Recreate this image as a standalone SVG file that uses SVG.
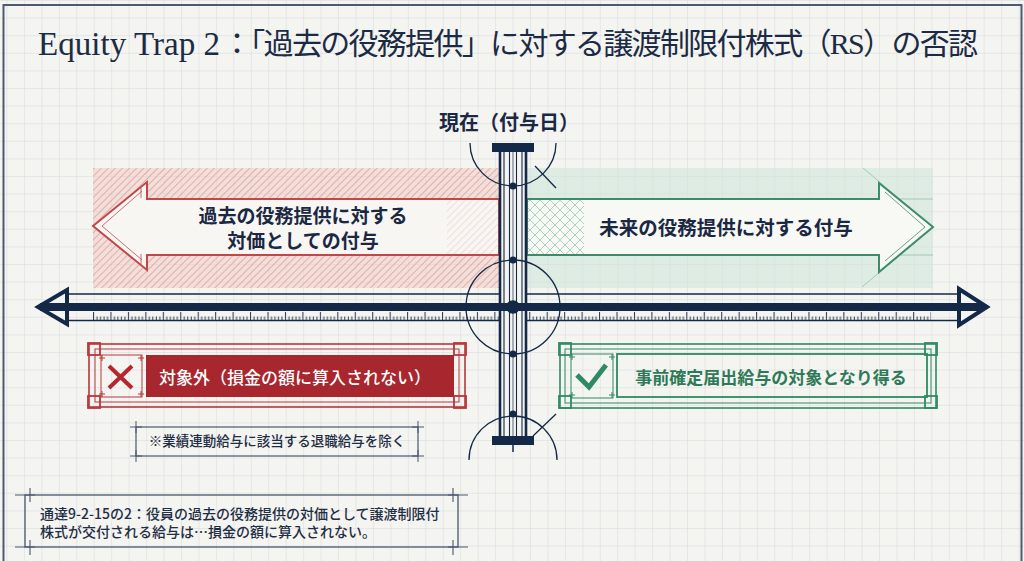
<svg xmlns="http://www.w3.org/2000/svg" width="1024" height="561" viewBox="0 0 1024 561">
<style>
.navy{stroke:#142847;fill:none}
.sans{font-family:"Noto Sans CJK JP","Liberation Sans",sans-serif}
.lbl{font-family:"Noto Sans CJK JP","Liberation Sans",sans-serif;font-weight:700;fill:#1a2844;text-anchor:middle}
.red{stroke:#b8363c;fill:none}
.grn{stroke:#2f8a63;fill:none}
.note{stroke:#4a5670;fill:none}
</style>
<defs>
<pattern id="grid" patternUnits="userSpaceOnUse" x="6.5" y="0" width="17.45" height="17.6">
<path d="M0 0V17.6M0 0H17.45" stroke="#d0d3dc" stroke-width="0.8" fill="none"/>
</pattern>
<pattern id="rhatch" patternUnits="userSpaceOnUse" width="5" height="5" patternTransform="rotate(45)">
<line x1="0" y1="0" x2="0" y2="5" stroke="#dd938e" stroke-width="1.3"/>
</pattern>
<pattern id="gcross" patternUnits="userSpaceOnUse" width="10" height="10">
<path d="M0 0L10 10M10 0L0 10" stroke="#7cbc9e" stroke-width="0.7" fill="none"/>
</pattern>
<pattern id="ticks" patternUnits="userSpaceOnUse" x="93" y="312" width="17.45" height="8">
<path d="M0.5 0V8M4 4.5V8M7.5 4.5V8M11 4.5V8M14.5 4.5V8" stroke="#142847" stroke-width="0.9" fill="none"/>
</pattern>
</defs>

<g id="background">
<rect x="0" y="0" width="1024" height="561" fill="#f4f4f0"/>
<rect x="0" y="0" width="1024" height="561" fill="url(#grid)"/>
<rect x="3.5" y="5" width="1018" height="570" fill="none" stroke="#4f5a70" stroke-width="2"/>
</g>

<g id="title">
<text x="38" y="55" font-family="'Liberation Serif','Noto Sans CJK JP',serif" font-size="33" fill="#1c2b45" textLength="182" lengthAdjust="spacingAndGlyphs">Equity Trap 2</text>
<text x="222" y="54" font-family="'Liberation Serif','Noto Sans CJK JP',serif" font-size="30" fill="#1c2b45" textLength="756" lengthAdjust="spacing">：「過去の役務提供」に対する譲渡制限付株式（RS）の否認</text>
</g>

<g id="past-region">
<rect x="93" y="168" width="406" height="120" fill="#f0d0cc" opacity="0.6"/>
<rect x="93" y="168" width="406" height="120" fill="url(#rhatch)"/>
</g>
<g id="future-region">
<rect x="527" y="168" width="406" height="120" fill="#cfe6da" opacity="0.6"/>
</g>

<g id="past-arrow">
<polygon points="93,226 147,182 147,199 499,199 499,255 147,255 147,270" fill="#f8f6f3" stroke="#c0484b" stroke-width="2" stroke-linejoin="miter"/>
<rect x="447" y="200" width="52" height="54" fill="url(#rhatch)" opacity="0.4"/>
<polyline points="142,191 102,226 142,260" fill="none" stroke="#c0484b" stroke-width="0.8"/>
<path d="M141 188V198M141 254V264" stroke="#c0484b" stroke-width="0.8"/>
<text class="lbl" x="303" y="223" font-size="19">過去の役務提供に対する</text>
<text class="lbl" x="303" y="248" font-size="19">対価としての付与</text>
</g>

<g id="future-arrow">
<path d="M863 168L933 227M862 287L933 227M880 199H933M880 255H933" stroke="#8cc4aa" stroke-width="0.8" fill="none"/>
<polygon points="527,199 879,199 879,183 933,227 879,272 879,255 527,255" fill="#f8f8f4" stroke="#3d8c68" stroke-width="2" stroke-linejoin="miter"/>
<rect x="528" y="200" width="56" height="54" fill="url(#gcross)" opacity="0.9"/>
<polyline points="885,192 925,227 885,261" fill="none" stroke="#3d8c68" stroke-width="0.8"/>
<text class="lbl" x="726" y="235" font-size="19.5">未来の役務提供に対する付与</text>
</g>

<g id="connectors">
<g id="timeline">
<line x1="67" y1="294" x2="959" y2="294" class="navy" stroke-width="1.5"/>
<line x1="67" y1="320.5" x2="959" y2="320.5" class="navy" stroke-width="1.5"/>
<rect x="93" y="312" width="838" height="8" fill="url(#ticks)"/>
<polygon points="38,307 67,290 67,324" fill="#f4f4f0" stroke="#142847" stroke-width="4" stroke-linejoin="miter"/>
<polygon points="987,307 959,289 959,325" fill="#f4f4f0" stroke="#142847" stroke-width="4" stroke-linejoin="miter"/>
</g>
<g id="pillar">
<rect x="499" y="151" width="28" height="285" fill="#f4f4f0"/>
<path d="M500 151V436M526 151V436" class="navy" stroke-width="2.6"/>
<path d="M504 151V436M522 151V436" class="navy" stroke-width="1.1"/>
<path d="M509.5 151V436M516.5 151V436" class="navy" stroke-width="1.1"/>
<path d="M513 151V436" class="navy" stroke-width="0.7"/>
<rect x="492" y="143" width="42" height="9" fill="#142847"/>
<rect x="492" y="436" width="42" height="9" fill="#142847"/>
<line x1="513" y1="445" x2="513" y2="452" class="navy" stroke-width="1.5"/>
</g>
<rect x="40" y="303" width="944" height="8" fill="#142847"/>
<g id="arcs" class="navy" stroke-width="1.3">
<path d="M470 143A43 43 0 0 0 556 143"/>
<circle cx="513" cy="307" r="47"/>
<path d="M469 460A44 44 0 0 1 557 460"/>
<line x1="535" y1="166" x2="556" y2="188"/>
<line x1="533" y1="436" x2="556" y2="414"/>
</g>
<g id="dots" fill="#142847">
<circle cx="513" cy="186" r="3.6"/>
<circle cx="513" cy="260" r="3.6"/>
<circle cx="513" cy="307" r="6.8"/>
<circle cx="513" cy="354" r="3.6"/>
<circle cx="513" cy="414" r="3.6"/>
</g>
</g>

<g id="now-label">
<text class="sans" x="509" y="130" font-size="20" font-weight="600" fill="#1a2844" text-anchor="middle">現在（付与日）</text>
</g>

<g id="excluded-box">
<rect x="89" y="344" width="376" height="63" fill="#f6f2ef" class="red" stroke-width="1.6"/>
<rect x="95" y="349" width="364" height="53" class="red" stroke-width="1"/>
<g class="red" stroke-width="1.8">
<rect x="88" y="343" width="12" height="12"/>
<rect x="454" y="343" width="12" height="12"/>
<rect x="88" y="396" width="12" height="12"/>
<rect x="454" y="396" width="12" height="12"/>
</g>
<rect x="101" y="355" width="41" height="42" class="red" stroke-width="1"/>
<path d="M99 358H105M102 355V361M138 358H144M141 355V361M99 394H105M102 391V397M138 394H144M141 391V397" class="red" stroke-width="1"/>
<path d="M109 366L132 388M132 366L109 388" stroke="#b8262d" stroke-width="4" fill="none"/>
<rect x="146" y="355" width="308" height="42" fill="#a8262d"/>
<text class="sans" x="295" y="384" font-size="17" font-weight="500" fill="#ffffff" text-anchor="middle">対象外（損金の額に算入されない）</text>
</g>

<g id="eligible-box">
<rect x="560" y="344" width="376" height="64" fill="#f6f6f2" class="grn" stroke-width="1.6"/>
<rect x="565" y="349" width="366" height="54" class="grn" stroke-width="1"/>
<g class="grn" stroke-width="1.8">
<rect x="559" y="343" width="12" height="12"/>
<rect x="925" y="343" width="12" height="12"/>
<rect x="559" y="396" width="12" height="12"/>
<rect x="925" y="396" width="12" height="12"/>
</g>
<rect x="571" y="354" width="42" height="44" class="grn" stroke-width="1"/>
<path d="M569 357H575M572 354V360M609 357H615M612 354V360M569 395H575M572 392V398M609 395H615M612 392V398" class="grn" stroke-width="1"/>
<polyline points="577,375 589,387 606,365" fill="none" stroke="#2f8a63" stroke-width="5"/>
<rect x="617" y="354" width="310" height="43" fill="#f7f7f3" class="grn" stroke-width="1.8"/>
<text class="sans" x="771" y="384" font-size="17" font-weight="600" fill="#2e7a58" text-anchor="middle">事前確定届出給与の対象となり得る</text>
</g>

<g id="exception-note">
<rect x="136" y="427" width="282" height="29" fill="#f5f5f1" class="note" stroke-width="1.2"/>
<path d="M130 427H142M136 421V433M412 427H424M418 421V433M130 456H142M136 450V462M412 456H424M418 450V462" class="note" stroke-width="1"/>
<text class="sans" x="277" y="446" font-size="13.5" font-weight="500" fill="#1f2d45" text-anchor="middle">※業績連動給与に該当する退職給与を除く</text>
</g>

<g id="citation-note">
<rect x="25" y="495" width="433" height="52" fill="#f5f5f1" class="note" stroke-width="1.3"/>
<path d="M15 495H35M30 488V502M448 495H468M453 488V502M15 547H35M30 540V555M448 547H468M453 540V555" class="note" stroke-width="1.1"/>
<text class="sans" x="40" y="519" font-size="14" font-weight="500" fill="#1f2d45">通達9-2-15の2：役員の過去の役務提供の対価として譲渡制限付</text>
<text class="sans" x="40" y="537" font-size="14" font-weight="500" fill="#1f2d45">株式が交付される給与は…損金の額に算入されない。</text>
</g>
</svg>
